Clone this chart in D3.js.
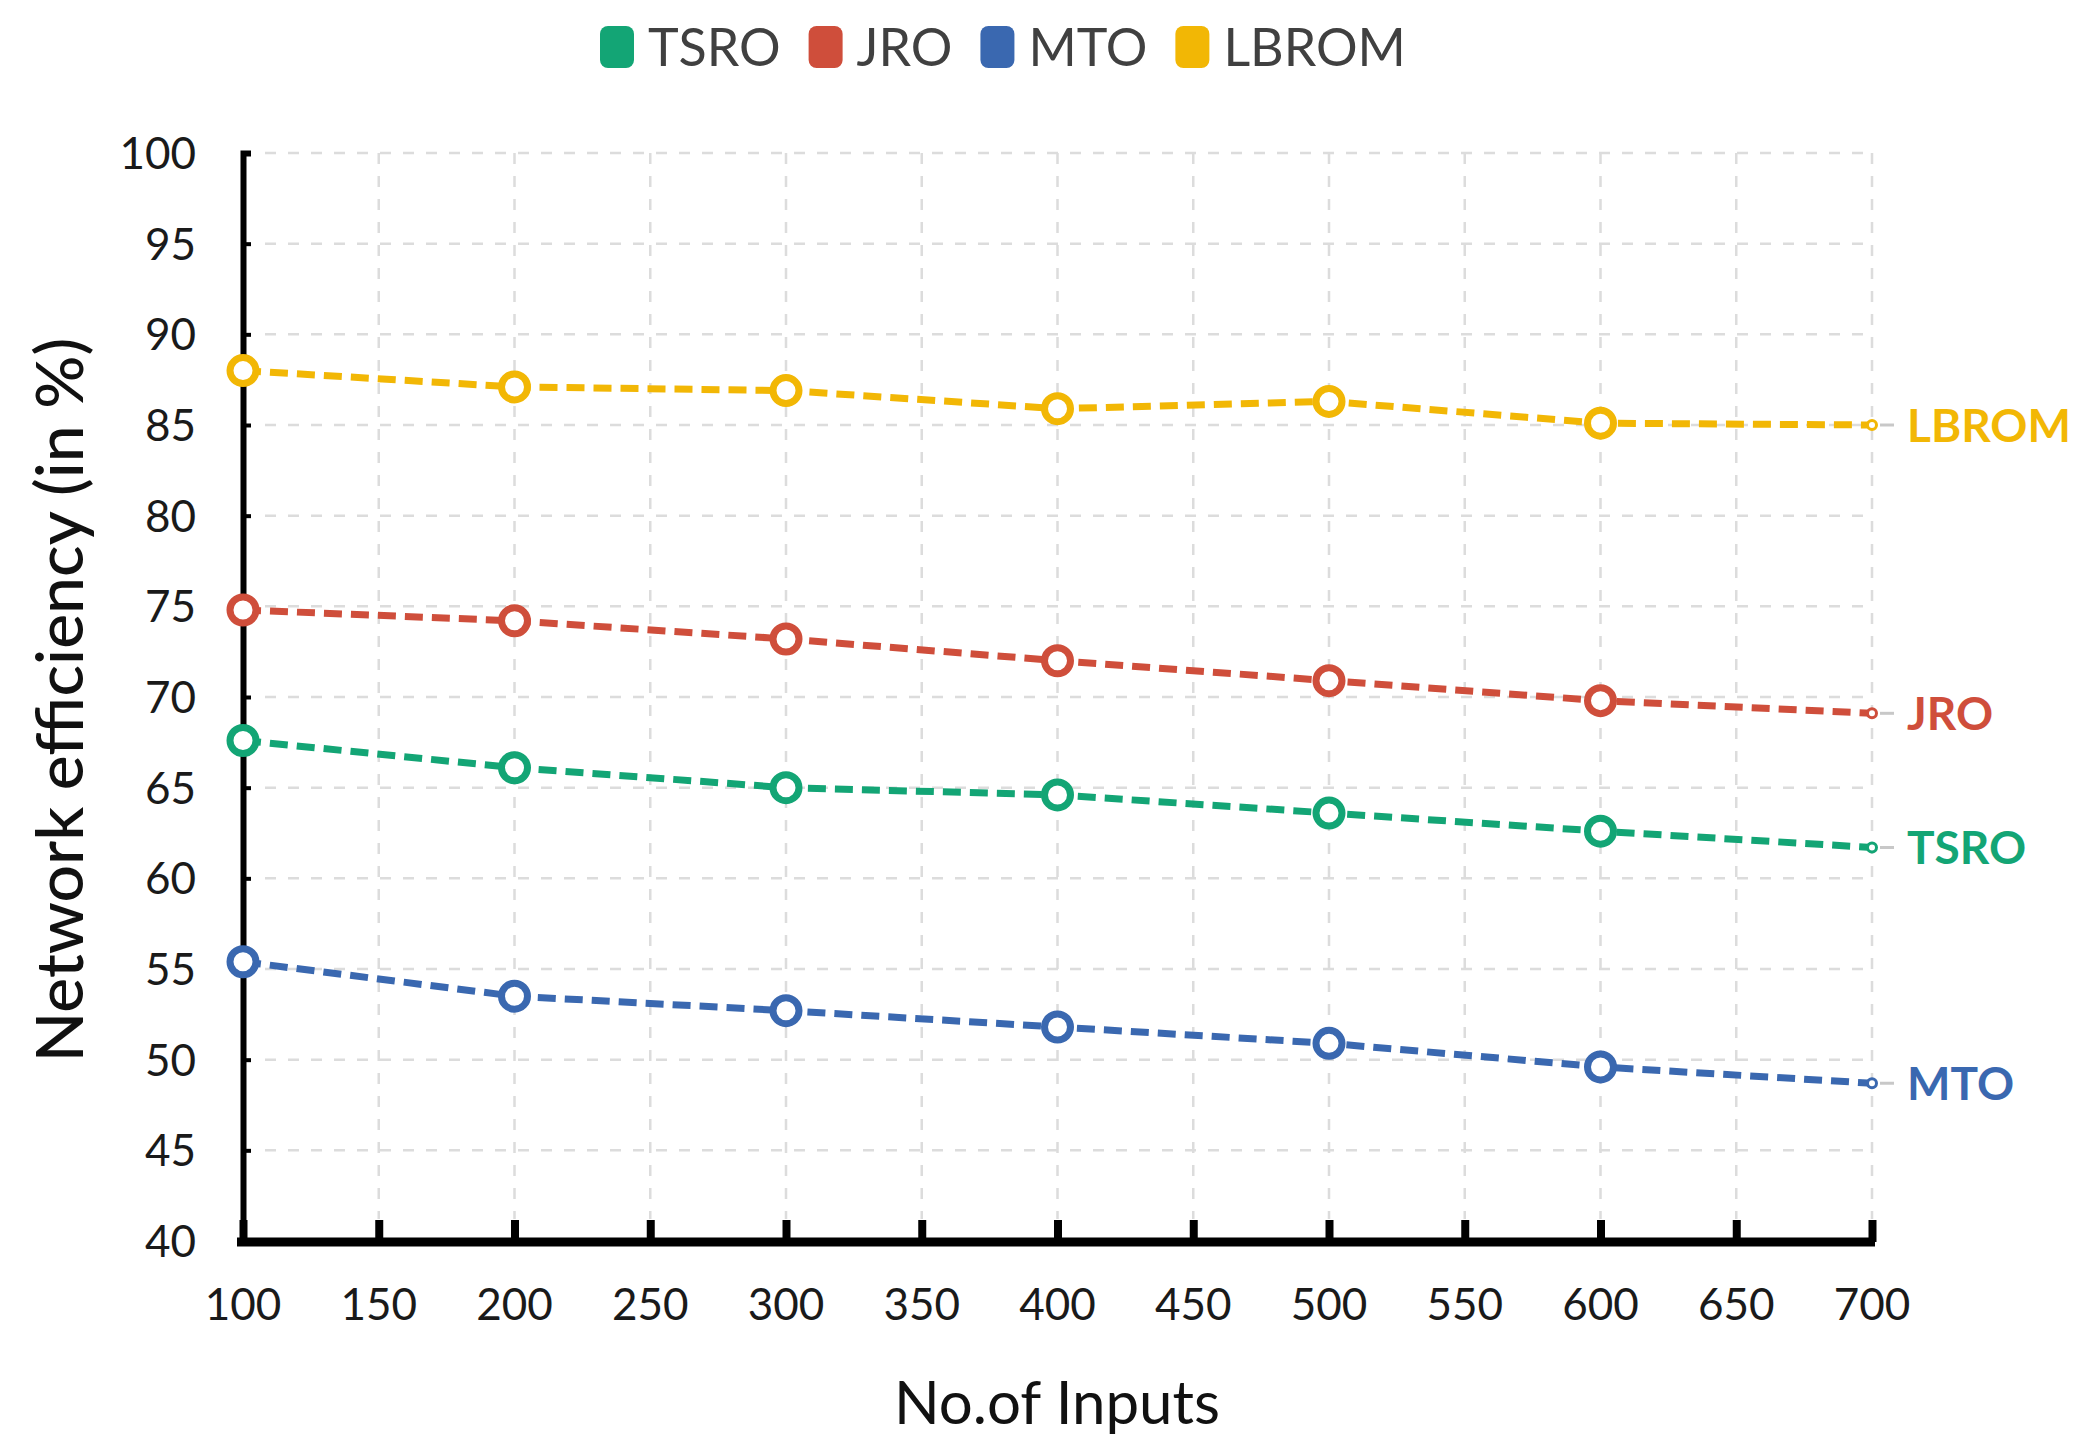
<!DOCTYPE html>
<html>
<head>
<meta charset="utf-8">
<title>Network efficiency</title>
<script src="https://d3js.org/d3.v7.min.js"></script>
<style>
  body { margin: 0; background: #fff; }
  text { font-family: Lato, "Open Sans", sans-serif; }
</style>
</head>
<body>
<div id="chart"></div>
<script>
// data
var inputs = [100, 200, 300, 400, 500, 600, 700];
var seriesNames = ["TSRO", "JRO", "MTO", "LBROM"];
var tsro  = [67.6, 66.1, 65.0, 64.6, 63.6, 62.6, 61.7];
var jro   = [74.8, 74.2, 73.2, 72.0, 70.9, 69.8, 69.1];
var mto   = [55.4, 53.5, 52.7, 51.8, 50.9, 49.6, 48.7];
var lbrom = [88.0, 87.1, 86.9, 85.9, 86.3, 85.1, 85.0];
var xTicks = [100, 150, 200, 250, 300, 350, 400, 450, 500, 550, 600, 650, 700];
var yTicks = [40, 45, 50, 55, 60, 65, 70, 75, 80, 85, 90, 95, 100];

var colors = {TSRO: "#13a575", JRO: "#cf4e3b", MTO: "#3a68b0", LBROM: "#f2b705"};
var values = {TSRO: tsro, JRO: jro, MTO: mto, LBROM: lbrom};

var W = 2080, H = 1454;
var svg = d3.select("#chart").append("svg")
    .attr("width", W).attr("height", H);

var x = d3.scaleLinear().domain([100, 700]).range([243, 1872]);
var y = d3.scaleLinear().domain([40, 100]).range([1241, 153]);

// grid
svg.append("g").selectAll("line")
  .data(yTicks.slice(1))
  .enter().append("line")
    .attr("x1", x(100) + 22).attr("x2", x(700))
    .attr("y1", d => y(d)).attr("y2", d => y(d))
    .attr("stroke", "#dcdcdc").attr("stroke-width", 2.5)
    .attr("stroke-dasharray", "11,12");

svg.append("g").selectAll("line")
  .data(xTicks.slice(1))
  .enter().append("line")
    .attr("x1", d => x(d)).attr("x2", d => x(d))
    .attr("y1", y(100)).attr("y2", y(40) - 22)
    .attr("stroke", "#dcdcdc").attr("stroke-width", 2.5)
    .attr("stroke-dasharray", "11,12");

// y axis
var yAxis = svg.append("g")
    .attr("transform", "translate(" + x(100) + ",0)")
    .call(d3.axisRight(y).tickValues(yTicks).tickSize(8).tickFormat(""));
yAxis.select(".domain").attr("stroke", "#000").attr("stroke-width", 6);
yAxis.selectAll(".tick line").attr("stroke", "#000").attr("stroke-width", 4);

svg.append("g").selectAll("text")
  .data(yTicks)
  .enter().append("text")
    .attr("x", 196).attr("y", d => y(d))
    .attr("dy", "0.36em")
    .attr("text-anchor", "end")
    .attr("font-size", 44).attr("fill", "#1a1a1a")
    .text(d => d);

// x axis
var xAxis = svg.append("g")
    .attr("transform", "translate(0," + (y(40) + 1) + ")")
    .call(d3.axisTop(x).tickValues(xTicks).tickSize(22).tickSizeOuter(0).tickFormat(""));
xAxis.select(".domain").attr("stroke", "#000").attr("stroke-width", 9)
    .attr("d", "M" + (x(100) - 6) + ",0H" + (x(700) + 3));
xAxis.selectAll(".tick line").attr("stroke", "#000").attr("stroke-width", 8);

svg.append("g").selectAll("text")
  .data(xTicks)
  .enter().append("text")
    .attr("x", d => x(d)).attr("y", 1320)
    .attr("text-anchor", "middle")
    .attr("font-size", 44).attr("fill", "#1a1a1a")
    .text(d => d);

// axis titles
svg.append("text")
    .attr("x", 1057).attr("y", 1424)
    .attr("text-anchor", "middle")
    .attr("font-size", 60).attr("fill", "#111")
    .text("No.of Inputs");

svg.append("text")
    .attr("transform", "translate(83,700) rotate(-90)")
    .attr("text-anchor", "middle")
    .attr("font-size", 66).attr("font-weight", 500).attr("fill", "#111")
    .text("Network efficiency (in %)");

// series
var line = d3.line()
    .x((d, i) => x(inputs[i]))
    .y(d => y(d));

seriesNames.forEach(function(name) {
  var vals = values[name];
  var c = colors[name];
  var g = svg.append("g");

  g.append("path")
    .datum(vals)
    .attr("d", line)
    .attr("fill", "none")
    .attr("stroke", c).attr("stroke-width", 7)
    .attr("stroke-dasharray", "18,9");

  g.selectAll("circle.big")
    .data(vals.slice(0, 6))
    .enter().append("circle")
      .attr("cx", (d, i) => x(inputs[i]))
      .attr("cy", d => y(d))
      .attr("r", 13)
      .attr("fill", "#fff")
      .attr("stroke", c).attr("stroke-width", 7);

  var last = vals[vals.length - 1];
  g.append("line")
    .attr("x1", x(700) + 8).attr("x2", x(700) + 22)
    .attr("y1", y(last)).attr("y2", y(last))
    .attr("stroke", "#c8c8c8").attr("stroke-width", 3);
  g.append("circle")
    .attr("cx", x(700)).attr("cy", y(last)).attr("r", 4.5)
    .attr("fill", "#fff").attr("stroke", c).attr("stroke-width", 3);
  g.append("text")
    .attr("x", 1907).attr("y", y(last))
    .attr("dy", "0.36em")
    .attr("font-size", 46).attr("font-weight", "bold")
    .attr("fill", c)
    .text(name);
});

// legend
var legend = svg.append("g");
var lx = 600;
seriesNames.forEach(function(name) {
  legend.append("rect")
    .attr("x", lx).attr("y", 26)
    .attr("width", 34).attr("height", 42)
    .attr("rx", 8)
    .attr("fill", colors[name]);
  var t = legend.append("text")
    .attr("x", lx + 48).attr("y", 47)
    .attr("dy", "0.36em")
    .attr("font-size", 52).attr("fill", "#404040")
    .text(name);
  lx += 48 + t.node().getComputedTextLength() + 28;
});
</script>
</body>
</html>
